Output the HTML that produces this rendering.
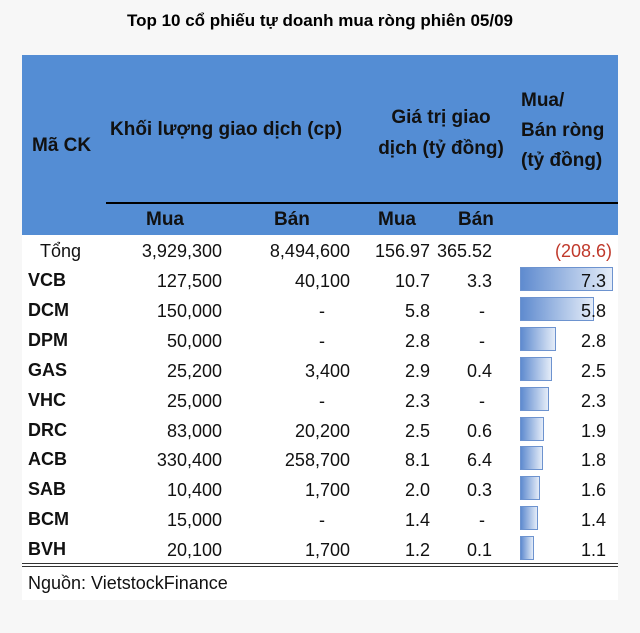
<!DOCTYPE html>
<html><head><meta charset="utf-8"><style>
body{margin:0;width:640px;height:633px;background:#f7f7f7;font-family:"Liberation Sans",sans-serif;position:relative;overflow:hidden}
.a{position:absolute;white-space:nowrap}
.t{font-size:18px;color:#111}
.h{font-size:19px;color:#111;font-weight:bold}
.r{text-align:right}
.c{text-align:center}
.bar{position:absolute;left:520px;height:24px;border:1px solid #6d93cf;background:linear-gradient(to right,#5f8bcf,#e4ecf8);box-sizing:border-box}
</style></head><body>
<div class="a" style="left:0;width:640px;top:11px;text-align:center;font-weight:bold;font-size:17px">Top 10 cổ phiếu tự doanh mua ròng phiên 05/09</div>
<div class="a" style="left:22px;top:55px;width:596px;height:545px;background:#fff"></div>
<div class="a" style="left:22px;top:55px;width:596px;height:180px;background:#548dd4"></div>
<div class="a" style="left:106px;top:202px;width:512px;height:2px;background:#000"></div>
<div class="a h" style="left:32px;top:135px">Mã CK</div>
<div class="a h" style="left:110px;top:119px">Khối lượng giao dịch (cp)</div>
<div class="a h c" style="left:366px;width:150px;top:102px;line-height:31px">Giá trị giao<br>dịch (tỷ đồng)</div>
<div class="a h" style="left:521px;top:86px;line-height:30px">Mua/<br>Bán ròng<br>(tỷ đồng)</div>
<div class="a h" style="left:146px;top:209px">Mua</div>
<div class="a h" style="left:274px;top:209px">Bán</div>
<div class="a h" style="left:378px;top:209px">Mua</div>
<div class="a h" style="left:458px;top:209px">Bán</div>
<div class="a t" style="left:40px;top:241px">Tổng</div>
<div class="a t r" style="left:100px;width:122px;top:241px">3,929,300</div>
<div class="a t r" style="left:230px;width:120px;top:241px">8,494,600</div>
<div class="a t r" style="left:340px;width:90px;top:241px">156.97</div>
<div class="a t r" style="left:432px;width:60px;top:241px">365.52</div>
<div class="a t r" style="left:520px;width:92px;top:241px;color:#c0392b">(208.6)</div>
<div id="rows"></div>
<div class="a" style="left:22px;top:563px;width:596px;height:1px;background:#333"></div>
<div class="a" style="left:22px;top:566px;width:596px;height:1px;background:#333"></div>
<div class="a t" style="left:28px;top:573px">Nguồn: VietstockFinance</div>
<script>
var d=[["VCB","127,500","40,100","10.7","3.3",7.3],["DCM","150,000","-","5.8","-",5.8],["DPM","50,000","-","2.8","-",2.8],["GAS","25,200","3,400","2.9","0.4",2.5],["VHC","25,000","-","2.3","-",2.3],["DRC","83,000","20,200","2.5","0.6",1.9],["ACB","330,400","258,700","8.1","6.4",1.8],["SAB","10,400","1,700","2.0","0.3",1.6],["BCM","15,000","-","1.4","-",1.4],["BVH","20,100","1,700","1.2","0.1",1.1]];
var h="";d.forEach(function(r,i){var y=271+i*29.9;
function rt(x,w,s){return '<div class="a t r" style="left:'+x+'px;width:'+w+'px;top:'+y+'px">'+s+'</div>'}
h+='<div class="bar" style="top:'+(y-4)+'px;width:'+Math.round(r[5]*12.8)+'px"></div>';
h+='<div class="a h" style="left:28px;top:'+(y-1)+'px;font-size:18px">'+r[0]+'</div>';
h+=rt(100,122,r[1]);
h+=r[2]=="-"?rt(230,95,"-"):rt(230,120,r[2]);
h+=rt(360,70,r[3]);
h+=r[4]=="-"?rt(440,45,"-"):rt(440,52,r[4]);
h+=rt(520,86,r[5].toFixed(1));});
document.getElementById("rows").innerHTML=h;
</script>
</body></html>
